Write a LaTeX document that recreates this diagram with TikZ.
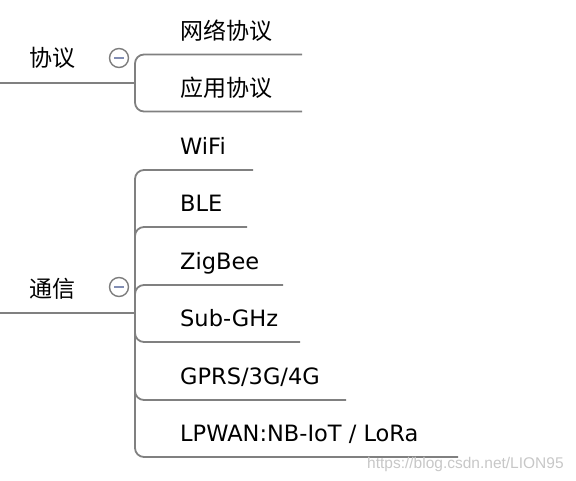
\documentclass[tikz,border=0pt]{standalone}
\usepackage{fontspec}
\setmainfont{DejaVu Sans}
\newfontfamily\cjk{Noto Sans CJK SC}
\newfontfamily\markfont{Liberation Sans}
\definecolor{lineGray}{RGB}{128,128,128}
\definecolor{foldGray}{RGB}{125,125,125}
\definecolor{minusBlue}{RGB}{130,142,180}
\begin{document}
\begin{tikzpicture}
[x=1pt,y=-1pt,
  branchLine/.style={draw=lineGray,line width=1.8pt,rounded corners=9pt},%
  topicText/.style={inner sep=0pt,font=\cjk\fontsize{23}{27}\selectfont},
  leafText/.style={anchor=base west,inner sep=0pt,font=\fontsize{22.5}{27}\selectfont},
  foldCircle/.style={shape=circle,draw=foldGray,fill=white,line width=1.4pt,
    minimum size=19pt,inner sep=0pt,
    path picture={\draw[minusBlue,line width=1.6pt]
      ([xshift=-5pt]path picture bounding box.center) --
      ([xshift=5pt]path picture bounding box.center);}}]
\useasboundingbox (0,0) rectangle (576,480);
%% main topics
\node (xieyi) at (53,58) [topicText] {协议};
\node (tongxin) at (53,289) [topicText] {通信};
\node (xieyiFold) at (119,58) [foldCircle] {};
\node (tongxinFold) at (119,287) [foldCircle] {};
\coordinate (xieyiStart) at (0,83);
\coordinate (xieyiJ) at (135,83);
\coordinate (tongxinStart) at (0,313);
\coordinate (tongxinJ) at (135,313);
\draw[branchLine] (xieyiStart) -- (xieyiJ);
\draw[branchLine] (tongxinStart) -- (tongxinJ);
%% protocol branches
\foreach \nodename/\txt/\y in {
  wangluo/网络协议/39, yingyong/应用协议/96}
{
  \node (\nodename) at (180,\y) [leafText,font=\cjk\fontsize{23}{27}\selectfont] {\txt};
  \coordinate (\nodename-end) at (302,\y+15.5);
  \draw[branchLine] (xieyiJ) |- (\nodename-end);
}
%% communication branches
\foreach \nodename/\txt/\y/\xend in {
  wifi/WiFi/154/253, ble/BLE/211/247, zigbee/ZigBee/269/283,
  subghz/Sub-GHz/326/300, gprs/{GPRS/3G/4G}/384/346,
  lpwan/{LPWAN:NB-IoT / LoRa}/441/458}
{
  \node (\nodename) at (180,\y) [leafText] {\txt};
  \coordinate (\nodename-end) at (\xend,\y+16);
  \draw[branchLine] (tongxinJ) |- (\nodename-end);
}
%% watermark
\node (watermark) at (367,468) [anchor=base west,inner sep=0pt,text=black!22,
  font=\markfont\fontsize{15.5}{18}\selectfont] {https://blog.csdn.net/LION95};
\end{tikzpicture}
\end{document}
